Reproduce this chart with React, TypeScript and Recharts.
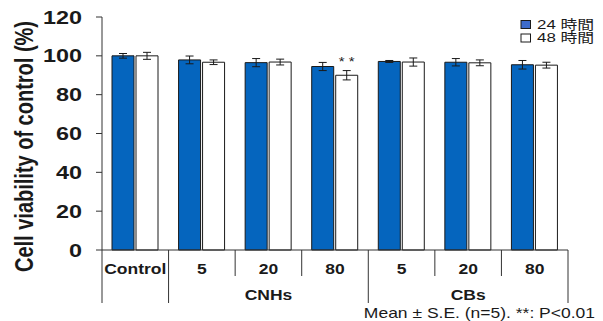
import { BarChart, Bar, XAxis, YAxis, ErrorBar, Legend, LabelList } from 'recharts';

const categories = ['Control', '5', '20', '80', '5', '20', '80'];
const groups = ['', 'CNHs', 'CNHs', 'CNHs', 'CBs', 'CBs', 'CBs'];
const h24 = [100, 97.9, 96.5, 94.5, 97.1, 96.7, 95.4];
const h24Err = [1.2, 2, 2.1, 2.1, 0.5, 1.9, 2.2];
const h48 = [100, 96.7, 96.8, 90, 96.8, 96.4, 95.2];
const h48Err = [1.8, 1.2, 1.5, 2.4, 2.1, 1.5, 1.5];
const sig48 = ['', '', '', '* *', '', '', ''];
const yTicks = [0, 20, 40, 60, 80, 100, 120];
const seriesNames = ['24 時間', '48 時間'];

const FONT = "'Liberation Sans', Arial, 'Noto Sans CJK JP', sans-serif";
const W = 603;
const H = 321;
const LEFT = 102;
const RIGHT = 35;
const PLOT_W = W - LEFT - RIGHT;
const BLUE = '#0565BE';
const INK = '#1a1a1a';

const data = categories.map((c, i) => ({
  name: c,
  group: groups[i],
  h24: h24[i],
  h24Err: h24Err[i],
  h48: h48[i],
  h48Err: h48Err[i],
  sig: sig48[i],
}));

function YTick({ x, y, payload }: any) {
  return (
    <text
      transform={`translate(${x},${y + 6.5}) scale(1.3,1)`}
      textAnchor="end"
      fontSize={18}
      fontWeight="bold"
      fontFamily={FONT}
      fill={INK}
    >
      {payload.value}
    </text>
  );
}

function XTick({ x, y, payload, index }: any) {
  const band = PLOT_W / categories.length;
  const g = groups[index];
  const groupEnd = index === categories.length - 1 || groups[index + 1] !== g;
  const isMiddle = g && groups[index - 1] === g && groups[index + 1] === g;
  const right = x + band / 2;
  const left = x - band / 2;
  return (
    <g>
      {index === 0 && <line x1={left} x2={left} y1={y} y2={y + 53} stroke="#333" strokeWidth={1} />}
      <line x1={right} x2={right} y1={y} y2={y + (groupEnd ? 53 : 26)} stroke="#333" strokeWidth={1} />
      <text
        transform={`translate(${x},${y + 24}) scale(1.25,1)`}
        textAnchor="middle"
        fontSize={14}
        fontWeight="bold"
        fontFamily={FONT}
        fill={INK}
      >
        {payload.value}
      </text>
      {isMiddle && (
        <text
          transform={`translate(${x},${y + 50}) scale(1.25,1)`}
          textAnchor="middle"
          fontSize={14}
          fontWeight="bold"
          fontFamily={FONT}
          fill={INK}
        >
          {g}
        </text>
      )}
    </g>
  );
}

function YLabel() {
  return (
    <text
      transform="translate(33,146.5) scale(1.25,1) rotate(-90)"
      textAnchor="middle"
      fontSize={20}
      fontWeight="bold"
      fontFamily={FONT}
      fill={INK}
    >
      Cell viability of control (%)
    </text>
  );
}

function Footnote() {
  return (
    <text
      transform="translate(595,318) scale(1.25,1)"
      textAnchor="end"
      fontSize={14}
      fontFamily={FONT}
      fill={INK}
    >
      Mean ± S.E. (n=5). **: P&lt;0.01
    </text>
  );
}

function SigLabel({ x, y, width, value }: any) {
  if (!value) return null;
  return (
    <text
      transform={`translate(${x + width / 2},${y - 9}) scale(1.25,1)`}
      textAnchor="middle"
      fontSize={12}
      fontFamily={FONT}
      fill={INK}
    >
      {value}
    </text>
  );
}

function LegendBox() {
  const fills = ['#3D6BCB', '#fff'];
  return (
    <svg width={85} height={40}>
      {seriesNames.map((s, i) => (
        <g key={s}>
          <rect x={3} y={6.5 + i * 13.5} width={9.5} height={8} fill={fills[i]} stroke={INK} strokeWidth={1} />
          <text
            transform={`translate(19,${14.6 + i * 13.5}) scale(1.3,1)`}
            fontSize={13}
            fontFamily={FONT}
            fill={INK}
          >
            {s}
          </text>
        </g>
      ))}
    </svg>
  );
}

export default function App() {
  return (
    <div style={{ position: 'absolute', left: 0, top: 0, width: W, height: H, background: '#fff' }}>
      <BarChart
        width={W}
        height={H}
        data={data}
        margin={{ top: 17, right: RIGHT, bottom: 0, left: 0 }}
        barSize={22}
        barGap={2}
      >
        <XAxis
          dataKey="name"
          height={71}
          tick={<XTick />}
          tickLine={false}
          tickSize={0}
          tickMargin={0}
          interval={0}
          axisLine={{ stroke: '#333', strokeWidth: 1 }}
          label={<Footnote />}
        />
        <YAxis
          width={LEFT}
          domain={[0, 120]}
          ticks={yTicks}
          tick={<YTick />}
          tickSize={6}
          tickMargin={14}
          tickLine={{ stroke: '#333' }}
          axisLine={{ stroke: '#333', strokeWidth: 1 }}
          label={<YLabel />}
        />
        <Legend
          layout="vertical"
          align="center"
          verticalAlign="middle"
          content={<LegendBox />}
          wrapperStyle={{ left: 518, top: 14, width: 85, height: 40 }}
        />
        <Bar dataKey="h24" name={seriesNames[0]} fill={BLUE} stroke={INK} strokeWidth={1} isAnimationActive={false}>
          <ErrorBar dataKey="h24Err" width={4} stroke={INK} strokeWidth={1} direction="y" isAnimationActive={false} />
        </Bar>
        <Bar dataKey="h48" name={seriesNames[1]} fill="#fff" stroke={INK} strokeWidth={1} isAnimationActive={false}>
          <ErrorBar dataKey="h48Err" width={4} stroke={INK} strokeWidth={1} direction="y" isAnimationActive={false} />
          <LabelList dataKey="sig" content={<SigLabel />} />
        </Bar>
      </BarChart>
    </div>
  );
}
